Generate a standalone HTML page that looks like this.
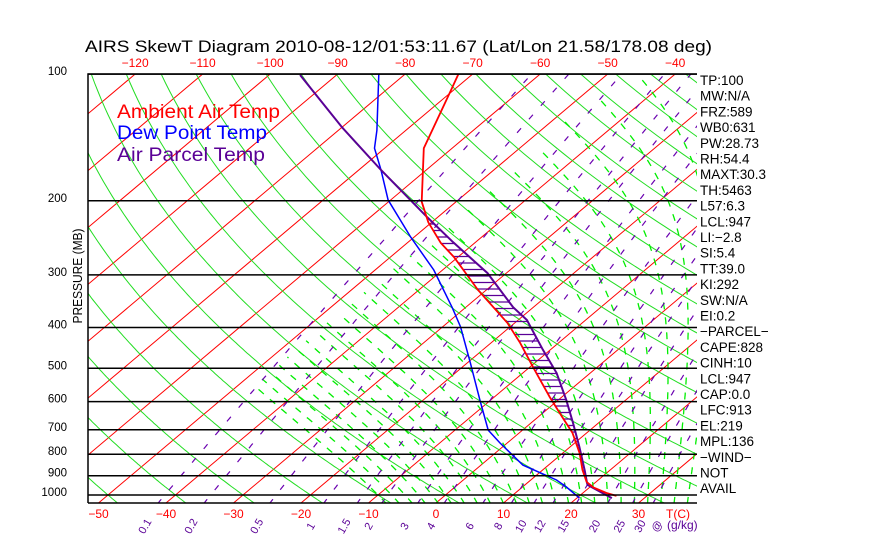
<!DOCTYPE html>
<html><head><meta charset="utf-8"><style>
html,body{margin:0;padding:0;background:#fff;width:870px;height:560px;overflow:hidden}
svg{display:block;font-family:"Liberation Sans",sans-serif}
</style></head><body>
<svg id="chart" width="870" height="560" viewBox="0 0 870 560" xmlns="http://www.w3.org/2000/svg">
<defs><clipPath id="plotclip"><rect x="88" y="74" width="609" height="429"/></clipPath></defs>
<rect x="0" y="0" width="870" height="560" fill="#fff"/>
<text x="85" y="52" font-size="17" textLength="627" lengthAdjust="spacingAndGlyphs" fill="#000">AIRS SkewT Diagram 2010-08-12/01:53:11.67 (Lat/Lon 21.58/178.08 deg)</text>
<g id="grid" clip-path="url(#plotclip)"></g>
<g id="profiles" clip-path="url(#plotclip)"></g>
<g id="axes"></g>
<text transform="translate(82,276) rotate(-90)" font-size="13" text-anchor="middle" textLength="95" lengthAdjust="spacingAndGlyphs">PRESSURE (MB)</text>
<g>
<text x="117" y="118" font-size="19" fill="#ff0000" textLength="163" lengthAdjust="spacingAndGlyphs">Ambient Air Temp</text>
<text x="117" y="139" font-size="19" fill="#0000ff" textLength="150" lengthAdjust="spacingAndGlyphs">Dew Point Temp</text>
<text x="117" y="161" font-size="19" fill="#5a0096" textLength="148" lengthAdjust="spacingAndGlyphs">Air Parcel Temp</text>
</g>
<g id="stats"></g>
</svg>
<script>
// ---- data ----
const pressureLevels = [100,200,300,400,500,600,700,800,900,1000];
const bottomTempTicks = [-50,-40,-30,-20,-10,0,10,20,30];
const topTempTicks = [-120,-110,-100,-90,-80,-70,-60,-50,-40];
const mixingRatios = [0.1,0.2,0.5,1,1.5,2,3,4,6,8,10,12,15,20,25,30];
const mixingLabels = ["0.1","0.2","0.5","1","1.5","2","3","4","6","8","10","12","15","20","25","30"];
const tempP = [100,109,150,201,225,252,272,326,390,435,497,585,653,712,795,872,931,960,989,1005];
const tempT = [-72.1,-70.4,-64.2,-55.1,-50.5,-45.0,-40.6,-31.2,-21.1,-15.7,-9.5,-1.8,3.6,7.9,12.5,15.9,18.6,20.6,23.5,25.5];
const dewP = [100,136,150,169,199,244,292,360,399,486,595,701,752,849,921,957,1017];
const dewT = [-83.9,-74.3,-71.5,-66.7,-60.4,-50.5,-41.3,-31.8,-27.3,-19.5,-11.6,-5.1,-1.1,6.2,13.8,16.5,20.4];
const parcelP = [100.5,134,169,219,251,297,358,384,452,513,595,674,769,872,940,947,1017];
const parcelT = [-95.4,-79.9,-66.7,-51.5,-43.3,-32.8,-23.0,-18.7,-11.1,-5.0,1.2,6.2,11.4,16.2,19.0,19.3,25.2];
const statLabels = ["TP:100","MW:N/A","FRZ:589","WB0:631","PW:28.73","RH:54.4","MAXT:30.3","TH:5463","L57:6.3","LCL:947","LI:\u22122.8","SI:5.4","TT:39.0","KI:292","SW:N/A","EI:0.2","\u2212PARCEL\u2212","CAPE:828","CINH:10","LCL:947","CAP:0.0","LFC:913","EL:219","MPL:136","\u2212WIND\u2212","NOT","AVAIL"];

// ---- axis functions ----
const NS="http://www.w3.org/2000/svg";
const X0=88,X1=697,Y0=74,Y1=503;
function yP(p){return 495+182.8*Math.log(p/1000);}
function xT(T,p){return 436+6.75*T+(503-yP(p))*1.187;}
function mk(tag,attrs,parent){const e=document.createElementNS(NS,tag);for(const k in attrs)e.setAttribute(k,attrs[k]);parent.appendChild(e);return e;}
const grid=document.getElementById('grid'),prof=document.getElementById('profiles'),axes=document.getElementById('axes'),stats=document.getElementById('stats');
function pathFrom(ps,ts){let d='';for(let i=0;i<ps.length;i++){d+=(i?'L':'M')+xT(ts[i],ps[i]).toFixed(1)+','+yP(ps[i]).toFixed(1);}return d;}
function pathMin(ps,ts,tmin){let d='',pen=false;for(let i=0;i<ps.length;i++){if(ts[i]<tmin){pen=false;continue;}d+=(pen?'L':'M')+xT(ts[i],ps[i]).toFixed(1)+','+yP(ps[i]).toFixed(1);pen=true;}return d;}
const PS=[];for(let p=1050;p>=95;p-=5)PS.push(p);

// isotherms
for(let T=-140;T<=60;T+=10){
  const l=mk('line',{x1:xT(T,1050),y1:yP(1050),x2:xT(T,95),y2:yP(95),stroke:'#ff0000','stroke-width':1},grid);
  
  
}
// dry adiabats
for(let th=-60;th<=220;th+=10){
  const ts=PS.map(p=>(th+273.15)*Math.pow(p/1000,0.2857)-273.15);
  const e=mk('path',{d:pathFrom(PS,ts),fill:'none',stroke:'#22dd22','stroke-width':1},grid);
  
  
}
// moist adiabats
function es(T){return 6.112*Math.exp(17.67*T/(T+243.5));}
function lapse(T,p){const Tk=T+273.15,e=es(T),rs=0.622*e/(p-e),Rd=287,Lv=2.5e6,cp=1004;
  return (Rd*Tk+Lv*rs)/(p*(cp+Lv*Lv*rs*0.622/(Rd*Tk*Tk)));}
for(let tw=-10;tw<=40;tw+=2){
  const up=[[1000,tw]];let T=tw;
  for(let p=1000;p>100;p-=5){T-=lapse(T,p)*5;up.push([p-5,T]);}
  T=tw;const dn=[];for(let p=1000;p<1050;p+=5){T+=lapse(T,p)*5;dn.push([p+5,T]);}
  const all=dn.reverse().concat(up);
  const e=mk('path',{d:pathMin(all.map(a=>a[0]),all.map(a=>a[1]),-48),fill:'none',stroke:'#00ee00','stroke-width':1.3,'stroke-dasharray':'7 8'},grid);
  
  
}
// mixing ratio lines
function tdFromW(w,p){const e=w*p/(622+w),l=Math.log(e/6.112);return 243.5*l/(17.67-l);}
mixingRatios.forEach((w,i)=>{
  const pts=PS.map(p=>tdFromW(w,p));
  const e=mk('path',{d:pathFrom(PS,pts),fill:'none',stroke:'#6a00b0','stroke-width':1.2,'stroke-dasharray':'6 12'},grid);
  
  
  const xl=xT(tdFromW(w,1045),1045)-10;
  const t=mk('text',{x:xl,y:528,'font-size':11,fill:'#5a0096',transform:'rotate(-60 '+xl+' 528)','text-anchor':'middle'},axes);
  t.textContent=mixingLabels[i];
  
  
});
// pressure lines
pressureLevels.forEach(p=>{
  const l=mk('line',{x1:X0,x2:X1,y1:yP(p),y2:yP(p),stroke:'#000','stroke-width':1.5},axes);
  
  
  const t=mk('text',{x:67,y:yP(p)+1,'font-size':11.5,'text-anchor':'end'},axes);
  t.textContent=String(p);
  
  
});
const border=mk('path',{d:`M${X0},${Y1}L${X0},${Y0}L${X1},${Y0}M${X0},${Y1}L${X1},${Y1}`,fill:'none',stroke:'#000','stroke-width':1.5},axes);


bottomTempTicks.forEach(T=>{
  const t=mk('text',{x:xT(T,1044.7),y:518,'font-size':12,fill:'#ff0000','text-anchor':'middle'},axes);
  t.textContent=T<0?'\u2212'+(-T):String(T);
  
  
});
const tc=mk('text',{x:678,y:518,'font-size':12,fill:'#ff0000','text-anchor':'middle'},axes);
tc.textContent='T(C)';


const gk=mk('text',{x:660,y:528,'font-size':11,fill:'#5a0096',transform:'rotate(-60 660 528)','text-anchor':'middle'},axes);
gk.textContent='@';


const gk2=mk('text',{x:667,y:529,'font-size':12,fill:'#5a0096'},axes);
gk2.textContent='(g/kg)';


topTempTicks.forEach(T=>{
  const t=mk('text',{x:xT(T,100),y:67,'font-size':12,fill:'#ff0000','text-anchor':'middle'},axes);
  t.textContent='\u2212'+(-T);
  
  
});
// hatching between parcel and ambient
function xAtY(ps,ts,y){for(let i=0;i<ps.length-1;i++){const ya=yP(ps[i]),yb=yP(ps[i+1]);if((y-ya)*(y-yb)<=0&&ya!==yb){const f=(y-ya)/(yb-ya);return xT(ts[i],ps[i])+f*(xT(ts[i+1],ps[i+1])-xT(ts[i],ps[i]));}}return null;}
for(let y=224;y<=484;y+=6.5){
  const xp=xAtY(parcelP,parcelT,y),xa=xAtY(tempP,tempT,y);
  if(xp!==null&&xa!==null&&xp>xa+1){
    const h=mk('line',{x1:xa,x2:xp,y1:y,y2:y,stroke:'#5a0096','stroke-width':1.3},prof);
    
    
  }
}
const dl=mk('path',{d:pathFrom(dewP,dewT),fill:'none',stroke:'#0000ff','stroke-width':1.5},prof);


const pl=mk('path',{d:pathFrom(parcelP,parcelT),fill:'none',stroke:'#5a0096','stroke-width':2},prof);


const tl=mk('path',{d:pathFrom(tempP,tempT),fill:'none',stroke:'#ff0000','stroke-width':1.8},prof);


// stats
statLabels.forEach((s,i)=>{
  const t=mk('text',{x:700,y:85+i*15.7,'font-size':13.5},stats);
  t.textContent=s;
  
  
});
</script>
</body></html>
